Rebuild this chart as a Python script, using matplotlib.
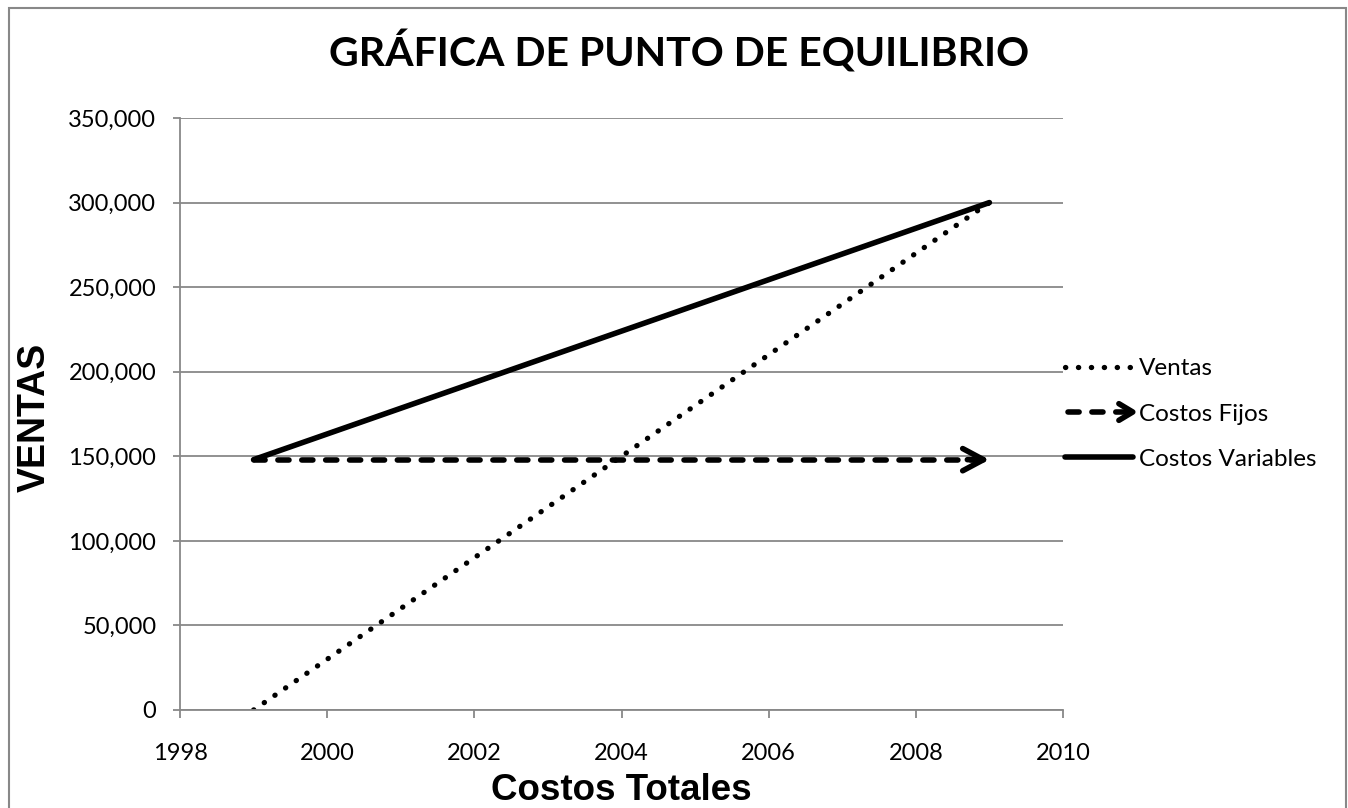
import matplotlib
matplotlib.use("Agg")
import matplotlib.pyplot as plt
from matplotlib.lines import Line2D
from matplotlib.legend_handler import HandlerBase
from matplotlib.patches import Rectangle
from matplotlib.ticker import FuncFormatter

# data
years = [1999, 2009]
ventas = [0, 300000]
costos_fijos = [148000, 148000]
costos_variables = [148000, 300000]

x_ticks = [1998, 2000, 2002, 2004, 2006, 2008, 2010]
y_ticks = [0, 50000, 100000, 150000, 200000, 250000, 300000, 350000]

GRID = "#888888"
TEXT_FONT = ["Lato", "DejaVu Sans"]
LABEL_FONT = ["Liberation Sans", "DejaVu Sans"]
DASH = (0, (2.0, 2.3))


class ArrowLineHandler(HandlerBase):
    """Dashed line with an open arrow head for the legend."""

    def create_artists(self, legend, orig_handle, xdescent, ydescent,
                       width, height, fontsize, trans):
        y = height / 2 - ydescent
        x0 = -xdescent
        x1 = width - xdescent
        line = Line2D([x0 + 2, x1 - 4], [y, y], color="black", lw=4.0,
                      linestyle=DASH, dash_capstyle="round", transform=trans)
        head = Line2D([x1 - 10, x1, x1 - 10], [y + 6, y, y - 6], color="black",
                      lw=4.0, solid_capstyle="round", solid_joinstyle="round",
                      transform=trans)
        return [line, head]


fig = plt.figure(figsize=(13.48, 8.08), dpi=100)
ax = fig.add_axes([180 / 1348, 1 - 710 / 808, 883 / 1348, 592 / 808])

ax.plot(years, ventas, color="black", lw=3.8, linestyle=(0, (0.05, 2.4)),
        dash_capstyle="round", label="Ventas")
ax.plot(years, costos_fijos, color="black", lw=4.0, linestyle=DASH,
        dash_capstyle="round", label="Costos Fijos")
ax.annotate("", xy=(years[-1], costos_fijos[-1]),
            xytext=(years[-1] - 0.3, costos_fijos[-1]),
            arrowprops=dict(arrowstyle="->,head_length=1.5,head_width=0.8",
                            lw=4.0, color="black", shrinkA=0, shrinkB=0,
                            capstyle="round", joinstyle="round"))
ax.plot(years, costos_variables, color="black", lw=4.0,
        solid_capstyle="round", label="Costos Variables")

ax.set_xlim(1998, 2010)
ax.set_ylim(0, 350000)
ax.set_xticks(x_ticks)
ax.set_yticks(y_ticks)
ax.yaxis.set_major_formatter(FuncFormatter(lambda v, p: f"{v:,.0f}"))
ax.grid(axis="y", color=GRID, lw=1.3)
ax.set_axisbelow(True)
for side in ["top", "right"]:
    ax.spines[side].set_visible(False)
for side in ["left", "bottom"]:
    ax.spines[side].set_color(GRID)
    ax.spines[side].set_linewidth(1.3)
ax.tick_params(axis="both", colors=GRID, width=1.3, labelcolor="black",
               labelsize=17)
ax.tick_params(axis="x", length=6, pad=18)
ax.tick_params(axis="y", length=5, pad=12)
for lbl in ax.get_xticklabels() + ax.get_yticklabels():
    lbl.set_family(TEXT_FONT)

handles, labels = ax.get_legend_handles_labels()
leg = ax.legend(handles, labels, loc="center left",
                bbox_to_anchor=(1.0 - 8 / 883, 0.5), frameon=False,
                borderaxespad=0,
                prop={"family": TEXT_FONT, "size": 17.5},
                handlelength=2.8, handletextpad=0.25, labelspacing=1.0,
                handler_map={handles[1]: ArrowLineHandler()})

fig.text(0.504, 0.936, "GRÁFICA DE PUNTO DE EQUILIBRIO", ha="center",
         va="center", fontsize=29.5, fontweight="bold", family=TEXT_FONT)
fig.text(0.026, 0.484, "VENTAS", rotation=90, ha="center", va="center",
         fontsize=27, fontweight="bold", family=LABEL_FONT)
fig.text(621 / 1348, 0.022, "Costos Totales", ha="center", va="center",
         fontsize=26.5, fontweight="bold", family=LABEL_FONT)

# chart border like the spreadsheet frame
fig.patches.append(Rectangle((9 / 1348, -0.05), 1337 / 1348, 1.05 - 8 / 808,
                             transform=fig.transFigure, fill=False,
                             edgecolor=GRID, lw=1.5))

fig.savefig("out.png", dpi=100)
